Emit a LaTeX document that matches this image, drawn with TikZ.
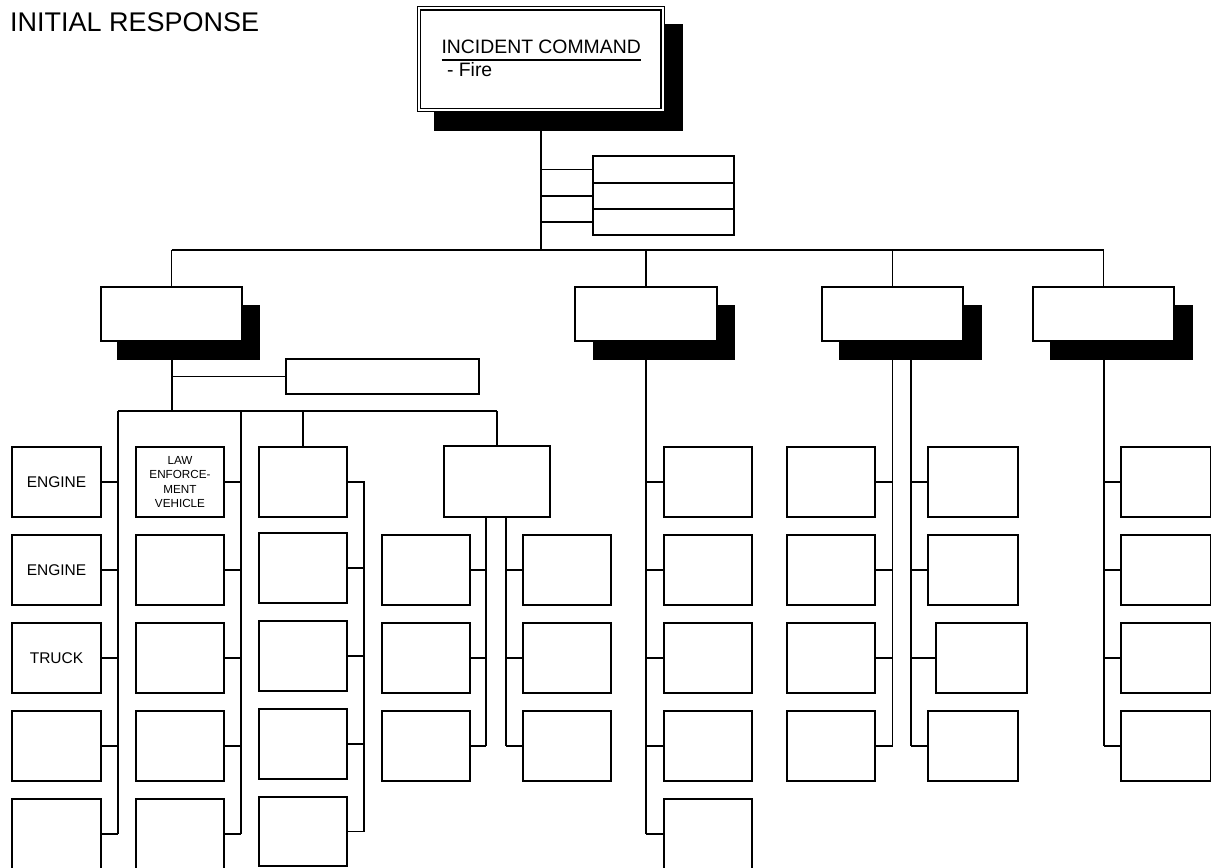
\documentclass[tikz,border=0pt]{standalone}
\usepackage{fontspec}
\setmainfont{Liberation Sans}
\usetikzlibrary{backgrounds}
\newcommand\obox[7][]{\node[obx, #1, minimum width={(#5-#3)*1pt}, minimum height={(#6-#4)*1pt}] (#2) at ({(#3+#5)/2},{(#4+#6)/2}) {#7};}
\begin{document}
\begin{tikzpicture}[x=1pt,y=-1pt,
  obx/.style={draw, fill=white, line width=1.2pt, inner sep=0pt, outer sep=0pt, align=center, font=\fontsize{15.5}{18}\selectfont},
  ln/.style={line width=1.2pt},
  md/.style={line width=1.6pt},
  tk/.style={line width=2pt},
  txt/.style={inner sep=0pt, outer sep=0pt, anchor=base west}]
\useasboundingbox (0,0) rectangle (1212,867);

% title
\node[txt, font=\fontsize{27}{31}\selectfont] (title) at (10,32) {INITIAL RESPONSE};

% incident command
\node[draw, double, double distance=2pt, line width=1.1pt, fill=white, minimum width=243.5pt, minimum height=101.5pt, inner sep=0pt, outer sep=0pt] (ic) at (540.75,59.25) {};
\node[txt, font=\fontsize{19.4}{22}\selectfont] (ict) at (441.5,54) {INCIDENT COMMAND};
\node[txt, font=\fontsize{19.4}{22}\selectfont] (icf) at (447,77) {- Fire};
\draw[line width=1.3pt] ([yshift=-6pt]ict.base west) -- ([yshift=-6pt]ict.base east);

% command staff
\obox{st1}{593}{156}{734}{183}{}
\obox{st2}{593}{183}{734}{209}{}
\obox{st3}{593}{209}{734}{235}{}

% sections
\obox{s1}{101}{287}{242}{341}{}
\obox{s2}{575}{287}{717}{341}{}
\obox{s3}{822}{287}{963}{341}{}
\obox{s4}{1033}{287}{1174}{341}{}
\obox{aux}{286}{359}{479}{394}{}

% column A
\foreach \n/\ya/\yb/\tx in {1/447/517/ENGINE,2/535/605/ENGINE,3/623/693/TRUCK,4/711/781/,5/799/869/}
  {\obox{a\n}{12}{\ya}{101}{\yb}{\tx}}
% column B
\obox[font=\fontsize{11.7}{14.3}\selectfont]{b1}{136}{447}{224}{517}{LAW\\ENFORCE-\\MENT\\VEHICLE}
\foreach \n/\ya/\yb in {2/535/605,3/623/693,4/711/781,5/799/869}
  {\obox{b\n}{136}{\ya}{224}{\yb}{}}
% column C
\foreach \n/\ya/\yb in {1/447/517,2/533/603,3/621/691,4/709/779,5/797/866}
  {\obox{c\n}{259}{\ya}{347}{\yb}{}}
% column D
\obox{d0}{444}{446}{550}{517}{}
\foreach \n/\ya/\yb in {1/535/605,2/623/693,3/711/781}
  {\obox{dl\n}{382}{\ya}{470}{\yb}{}
   \obox{dr\n}{523}{\ya}{611}{\yb}{}}
% column E
\foreach \n/\ya/\yb in {1/447/517,2/535/605,3/623/693,4/711/781,5/799/869}
  {\obox{e\n}{664}{\ya}{752}{\yb}{}}
% column F, G, H
\foreach \n/\ya/\yb in {1/447/517,2/535/605,3/623/693,4/711/781}
  {\obox{f\n}{787}{\ya}{875}{\yb}{}
   \obox{hh\n}{1121}{\ya}{1210.5}{\yb}{}}
\foreach \n/\ya/\yb in {1/447/517,2/535/605,4/711/781}
  {\obox{g\n}{928}{\ya}{1018}{\yb}{}}
\obox{g3}{936}{623}{1027}{693}{}

\begin{scope}[on background layer]
  \coordinate (barY) at (0,250);
  \coordinate (bar2Y) at (0,411);
  \coordinate (colA) at (118,411);
  \coordinate (colB) at (241,411);
  \coordinate (colC) at (364,0);
  \coordinate (colDl) at (486,0);
  \coordinate (colDr) at (506,0);
  \coordinate (colG) at (911,341);
  % IC trunk and staff
  \draw[tk] (ic.south) -- (ic.south |- barY);
  \foreach \s in {st1,st2,st3} {\draw[ln] (\s.west) -- (\s.west -| ic.south);}
  % section bar
  \draw[ln] (s1.north |- barY) -- (s4.north |- barY);
  \foreach \s in {s1,s2,s3,s4} {\draw[ln] (\s.north) -- (\s.north |- barY);}
  % section 1
  \draw[tk] (s1.south) -- (s1.south |- bar2Y);
  \draw[ln] (aux.west) -- (aux.west -| s1.south);
  \draw[tk] (colA) -- (colB);
  \draw[ln] (colB) -- (d0.north |- bar2Y);
  \draw[ln] (c1.north) -- (c1.north |- bar2Y);
  \draw[ln] (d0.north) -- (d0.north |- bar2Y);
  \draw[tk] (colA) -- (colA |- a5.east);
  \draw[tk] (colB) -- (colB |- b5.east);
  \foreach \n in {1,...,5} {
    \draw[ln] (a\n.east) -- (a\n.east -| colA);
    \draw[ln] (b\n.east) -- (b\n.east -| colB);
  }
  \draw[tk] (c1.east) -- (c1.east -| colC) -- (colC |- c5.east);
  \foreach \n in {2,...,5} {\draw[ln] (c\n.east) -- (c\n.east -| colC);}
  \draw[md] (colDl |- d0.south) -- (colDl |- dl3.east);
  \draw[md] (colDr |- d0.south) -- (colDr |- dr3.west);
  \foreach \n in {1,2,3} {
    \draw[ln] (dl\n.east) -- (dl\n.east -| colDl);
    \draw[ln] (dr\n.west) -- (dr\n.west -| colDr);
  }
  % section 2
  \draw[tk] (s2.south) -- (s2.south |- e5.west);
  \foreach \n in {1,...,5} {\draw[ln] (e\n.west) -- (e\n.west -| s2.south);}
  % section 3
  \draw[md] (s3.south) -- (s3.south |- f4.east);
  \draw[md] (colG) -- (colG |- g4.west);
  % section 4
  \draw[tk] (s4.south) -- (s4.south |- hh4.west);
  \foreach \n in {1,...,4} {
    \draw[ln] (f\n.east) -- (f\n.east -| s3.south);
    \draw[ln] (g\n.west) -- (g\n.west -| colG);
    \draw[ln] (hh\n.west) -- (hh\n.west -| s4.south);
  }
  % shadows
  \fill (434,24) rectangle (683,131);
  \fill (117,305) rectangle (260,360);
  \fill (593,305) rectangle (735,360);
  \fill (839,305) rectangle (982,360);
  \fill (1050,305) rectangle (1193,360);
\end{scope}
\end{tikzpicture}
\end{document}
